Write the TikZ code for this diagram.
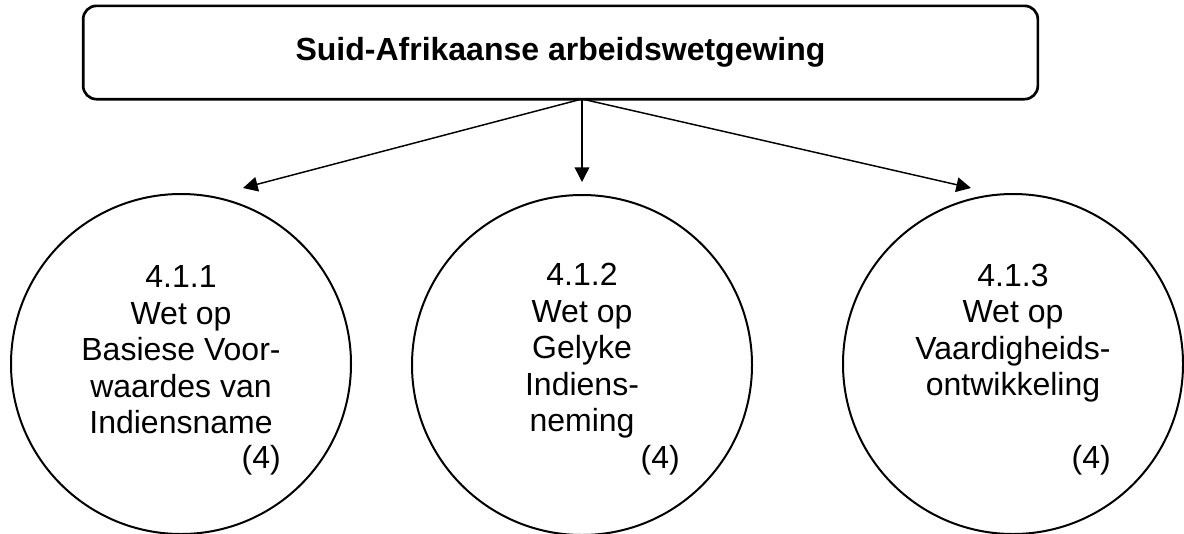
\documentclass[tikz,border=0pt]{standalone}
\usepackage{fontspec}
\setmainfont{Liberation Sans}
\usetikzlibrary{arrows.meta}
\begin{document}
\begin{tikzpicture}[x=0.75pt,y=-0.75pt,
  titlebox/.style={draw, line width=2pt, rounded corners=10pt, minimum width=716pt, minimum height=70pt, inner sep=0pt},
  lawcircle/.style={draw, circle, line width=1.5pt, minimum size=255pt, inner sep=0pt},
  lawtext/.style={align=center, font=\fontsize{24}{27.4}\selectfont, inner sep=0pt},
  marktext/.style={anchor=east, font=\fontsize{24}{27.4}\selectfont, inner sep=0pt},
  arr/.style={line width=1.1pt, -{Triangle[length=11pt, width=11pt]}}]
\useasboundingbox (0,0) rectangle (1184,533);
\node[titlebox] (top) at (560.5,52.5) {};
\node[font=\bfseries\fontsize{24}{28}\selectfont, inner sep=0pt] (title) at (560.5,52.5) {Suid-Afrikaanse arbeidswetgewing};
\node[lawcircle] (c1) at (181,364) {};
\node[lawcircle] (c2) at (582,365) {};
\node[lawcircle] (c3) at (1013,364) {};
\node[lawtext] (t1) at (181,350) {4.1.1\\Wet op\\Basiese Voor-\\waardes van\\Indiensname};
\node[lawtext] (t2) at (582,351) {4.1.2\\Wet op\\Gelyke\\Indiens-\\neming};
\node[lawtext] (t3) at (1013,333) {4.1.3\\Wet op\\Vaardigheids-\\ontwikkeling};
\node[marktext] (m1) at (281,460) {(4)};
\node[marktext] (m2) at (680,460) {(4)};
\node[marktext] (m3) at (1111,460) {(4)};
\coordinate (src) at (582,99);
\coordinate (e1) at (243,188);
\coordinate (e2) at (582,182);
\coordinate (e3) at (971,188);
\draw[arr] (src) -- (e1);
\draw[arr] (src) -- (e2);
\draw[arr] (src) -- (e3);
\end{tikzpicture}
\end{document}
